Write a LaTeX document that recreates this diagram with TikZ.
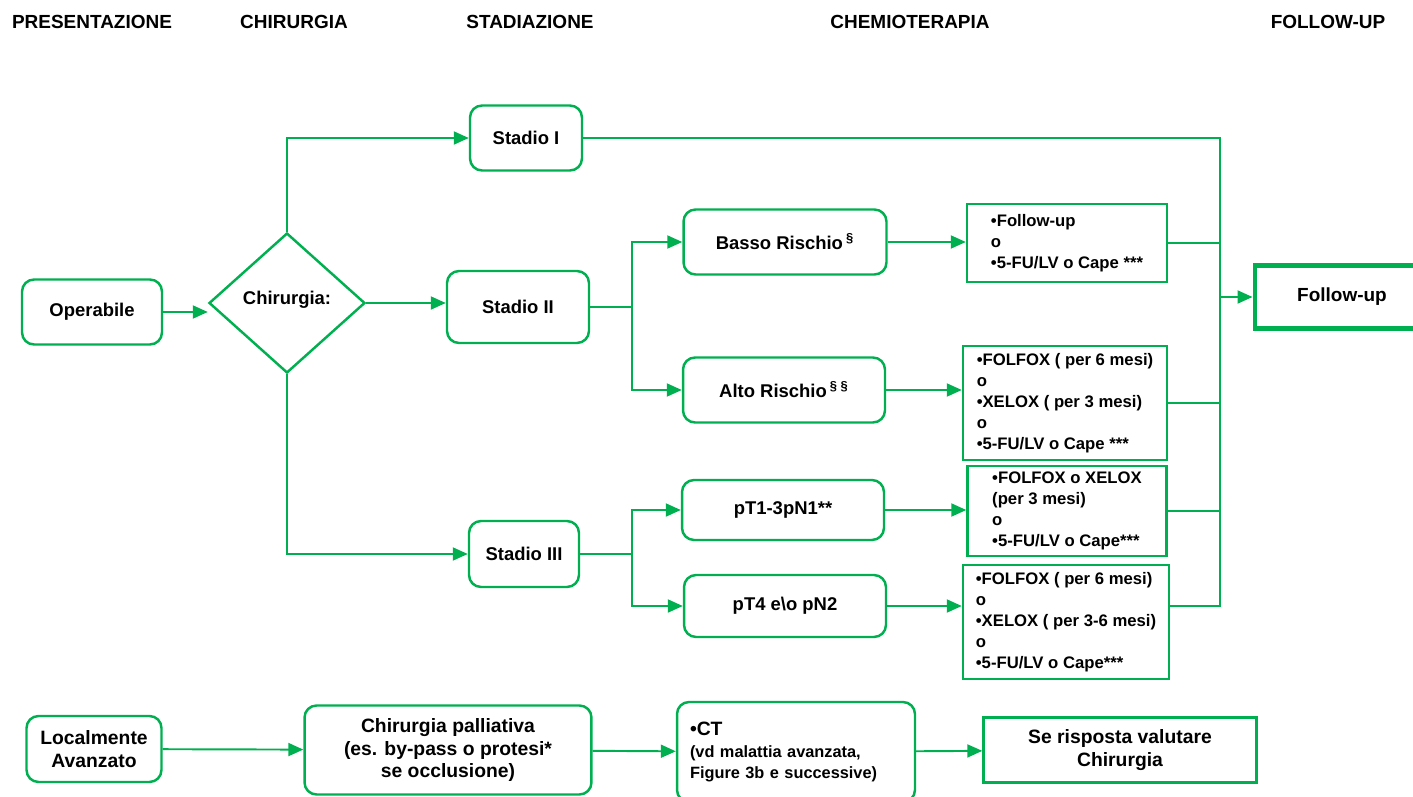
\documentclass[tikz,border=0pt]{standalone}
\usepackage{fontspec}
\setmainfont{Liberation Sans}
\usepackage{xcolor}
\usetikzlibrary{arrows.meta}
\usetikzlibrary{shapes.geometric}
\definecolor{verde}{RGB}{0,176,80}

\begin{document}
\begin{tikzpicture}[x=0.02cm, y=-0.02cm,
    head/.style={font=\fontsize{10.8}{13}\selectfont\bfseries},
    box/.style={draw=verde, line width=1.4pt, rounded corners=0.24cm, align=center,
                font=\fontsize{10.5}{12.5}\selectfont\bfseries},
    chemo/.style={draw=verde, line width=1.4pt, align=left,
                  font=\fontsize{9.5}{12}\selectfont\bfseries},
    conn/.style={draw=verde, line width=1.1pt},
    arr/.style={conn, -{Triangle[length=0.3cm,width=0.26cm]}}]
    \useasboundingbox (0,0) rectangle (1413,797);

    % intestazioni
    \foreach \x/\t [count=\i] in {92/PRESENTAZIONE, 294/CHIRURGIA, 530/STADIAZIONE,
                                  910/CHEMIOTERAPIA, 1328/FOLLOW-UP} {
        \node[head] (h\i) at (\x,22) {\t};
    }

    % presentazione e chirurgia
    \node[box, minimum width=2.8cm, minimum height=1.3cm] (op) at (92,312) {Operabile};
    \node[diamond, draw=verde, line width=1.4pt, minimum width=3.12cm, minimum height=2.8cm,
          inner sep=0pt, font=\fontsize{10.5}{12.5}\selectfont\bfseries] (chir) at (287,303)
          {\raisebox{0.2cm}{Chirurgia:}};

    % stadiazione
    \node[box, minimum width=2.24cm, minimum height=1.3cm] (s1) at (526,138) {Stadio I};
    \node[box, minimum width=2.84cm, minimum height=1.44cm] (s2) at (518,307) {Stadio II};
    \node[box, minimum width=2.2cm, minimum height=1.32cm] (s3) at (524,554) {Stadio III};

    % rischio
    \node[box, minimum width=4.06cm, minimum height=1.3cm] (basso) at (785,242) {Basso Rischio\,\textsuperscript{§}};
    \node[box, minimum width=4.04cm, minimum height=1.3cm] (alto) at (784,390) {Alto Rischio\,\textsuperscript{§ §}};
    \node[box, minimum width=4.04cm, minimum height=1.2cm] (pt13) at (783,510) {pT1-3pN1**};
    \node[box, minimum width=4.04cm, minimum height=1.24cm] (pt4) at (785,606) {pT4 e\textbackslash o pN2};

    % chemioterapia
    \node[chemo, minimum width=4.0cm, minimum height=1.56cm] (ct1) at (1067,243)
        {•Follow-up\\o\\•5-FU/LV o Cape ***};
    \node[chemo, minimum width=4.08cm, minimum height=2.28cm] (ct2) at (1065,403)
        {•FOLFOX ( per 6 mesi)\\o\\•XELOX ( per 3 mesi)\\o\\•5-FU/LV o Cape ***};
    \node[chemo, minimum width=3.98cm, minimum height=1.66cm] (ct3) at (1067,511)
        {•FOLFOX o XELOX\\(per 3 mesi)\\o\\•5-FU/LV o Cape***};
    \node[chemo, minimum width=4.12cm, minimum height=2.28cm] (ct4) at (1066,622)
        {•FOLFOX ( per 6 mesi)\\o\\•XELOX ( per 3-6 mesi)\\o\\•5-FU/LV o Cape***};

    % follow-up
    \node[chemo, line width=2.3pt, align=center, minimum width=3.5cm, minimum height=1.26cm,
          font=\fontsize{10.8}{13}\selectfont\bfseries] (fu) at (1342,297) {Follow-up};

    % localmente avanzato
    \node[box, minimum width=2.7cm, minimum height=1.32cm, font=\fontsize{11}{13.5}\selectfont\bfseries]
        (loc) at (94,749) {Localmente\\Avanzato};
    \node[box, minimum width=5.74cm, minimum height=1.78cm, font=\fontsize{11}{12.8}\selectfont\bfseries]
        (pall) at (448,750) {Chirurgia palliativa\\(es. by-pass o protesi*\\se occlusione)};
    \node[box, align=left, text width=4.24cm, inner xsep=0.26cm, minimum height=2.0cm,
          font=\fontsize{9.3}{12}\selectfont\bfseries]
        (ctav) at (796,752) {\fontsize{11}{12}\selectfont •CT\\\fontsize{9.3}{12}\selectfont (vd malattia avanzata,\\Figure 3b e successive)};
    \node[chemo, align=center, minimum width=5.46cm, minimum height=1.3cm,
          font=\fontsize{11}{13.5}\selectfont\bfseries]
        (risp) at (1120,750) {Se risposta valutare\\Chirurgia};

    % collegamenti
    \coordinate (split) at (632,0);
    \coordinate (bus) at (1220,0);
    \draw[arr] (op.east) -- (op.east -| chir.west);
    \draw[arr] (chir.north) |- (s1.west);
    \draw[arr] (chir.east) -- (chir.east -| s2.west);
    \draw[arr] (chir.south) |- (s3.west);
    \draw[conn] (s2.east) -- (s2.east -| split);
    \draw[conn] (s3.east) -- (s3.east -| split);
    \foreach \a/\b in {s2/basso, s2/alto, s3/pt13, s3/pt4} {
        \draw[arr] (\a.east -| split) |- (\b.west);
    }
    \foreach \a/\b in {basso/ct1, alto/ct2, pt13/ct3, pt4/ct4} {
        \draw[arr] (\a.east) -- (\a.east -| \b.west);
    }
    \draw[conn] (s1.east) -- (s1.east -| bus) -- (pt4 -| bus) -- (pt4 -| ct4.east);
    \foreach \n in {ct1, ct2, ct3} {
        \draw[conn] (\n.east) -- (\n.east -| bus);
    }
    \draw[arr] (fu.west -| bus) -- (fu.west);
    \draw[arr] (loc) -- (pall);
    \draw[arr] (pall) -- (ctav);
    \draw[arr] (ctav) -- (risp);
\end{tikzpicture}
\end{document}
